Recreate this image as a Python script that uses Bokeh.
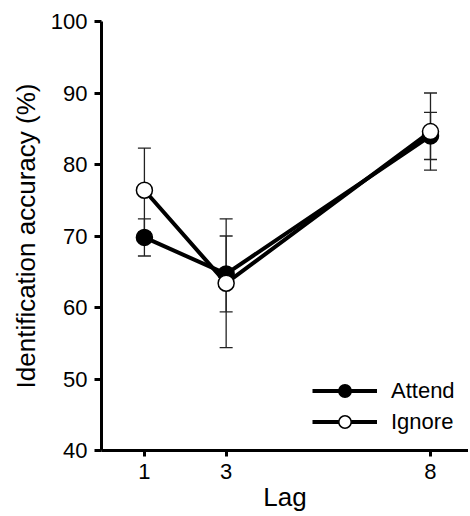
from bokeh.plotting import figure
from bokeh.models import (Range1d, FixedTicker, Whisker, ColumnDataSource, Legend,
                          LegendItem, TeeHead)
from bokeh.embed import file_html
from bokeh.resources import INLINE

lags = [1, 3, 8]
attend = [69.8, 64.7, 84.0]
attend_err = [2.6, 5.3, 3.3]
ignore = [76.4, 63.4, 84.6]
ignore_err = [5.9, 9.0, 5.4]
x_ticks = [1, 3, 8]
y_ticks = [40, 50, 60, 70, 80, 90, 100]

FONT = "Liberation Sans"

p = figure(width=468, height=514, x_range=Range1d(-0.05, 8.93), y_range=Range1d(40, 100),
           output_backend="svg", toolbar_location=None,
           min_border_left=101, min_border_right=0, min_border_top=21, min_border_bottom=63)
p.grid.visible = False
p.outline_line_color = None

for ax in (p.xaxis[0], p.yaxis[0]):
    ax.axis_line_width = 3
    ax.axis_line_color = "black"
    ax.major_tick_line_width = 3
    ax.major_tick_line_color = "black"
    ax.major_tick_in = 0
    ax.minor_tick_line_color = None
    ax.major_label_text_font = FONT
    ax.major_label_text_font_size = "22px"
    ax.major_label_text_color = "black"
    ax.axis_label_text_font = FONT
    ax.axis_label_text_font_size = "26px"
    ax.axis_label_text_font_style = "normal"
    ax.axis_label_text_color = "black"

p.xaxis.ticker = FixedTicker(ticks=x_ticks)
p.yaxis.ticker = FixedTicker(ticks=y_ticks)
p.xaxis.major_tick_out = 6
p.yaxis.major_tick_out = 7
p.xaxis.major_label_standoff = 7
p.yaxis.major_label_standoff = 7
p.xaxis.axis_label = "Lag"
p.yaxis.axis_label = "Identification accuracy (%)"
p.xaxis.axis_label_standoff = 0
p.yaxis.axis_label_standoff = 7


def add_err(vals, errs):
    src = ColumnDataSource(dict(x=lags,
                                upper=[v + e for v, e in zip(vals, errs)],
                                lower=[v - e for v, e in zip(vals, errs)]))
    w = Whisker(source=src, base="x", upper="upper", lower="lower",
                line_width=1.3, line_color="#222222", level="underlay",
                upper_head=TeeHead(size=13, line_width=1.3, line_color="#222222"),
                lower_head=TeeHead(size=13, line_width=1.3, line_color="#222222"))
    p.add_layout(w)


add_err(attend, attend_err)
add_err(ignore, ignore_err)

la = p.line(lags, attend, line_width=4, line_color="black")
ma = p.scatter(lags, attend, size=16, fill_color="black", line_color="black", line_width=1.5)
li = p.line(lags, ignore, line_width=4, line_color="black")
mi = p.scatter(lags, ignore, size=16, fill_color="white", line_color="black", line_width=1.5)

legend = Legend(items=[LegendItem(label="Attend", renderers=[la, ma]),
                       LegendItem(label="Ignore", renderers=[li, mi])],
                location=(211, 13), padding=0, margin=0, spacing=0,
                glyph_width=65, glyph_height=31, label_standoff=14,
                border_line_color=None, background_fill_alpha=0,
                label_text_font=FONT, label_text_font_size="22px",
                label_text_color="black")
p.add_layout(legend)

open("out.html", "w").write(file_html(p, INLINE))
